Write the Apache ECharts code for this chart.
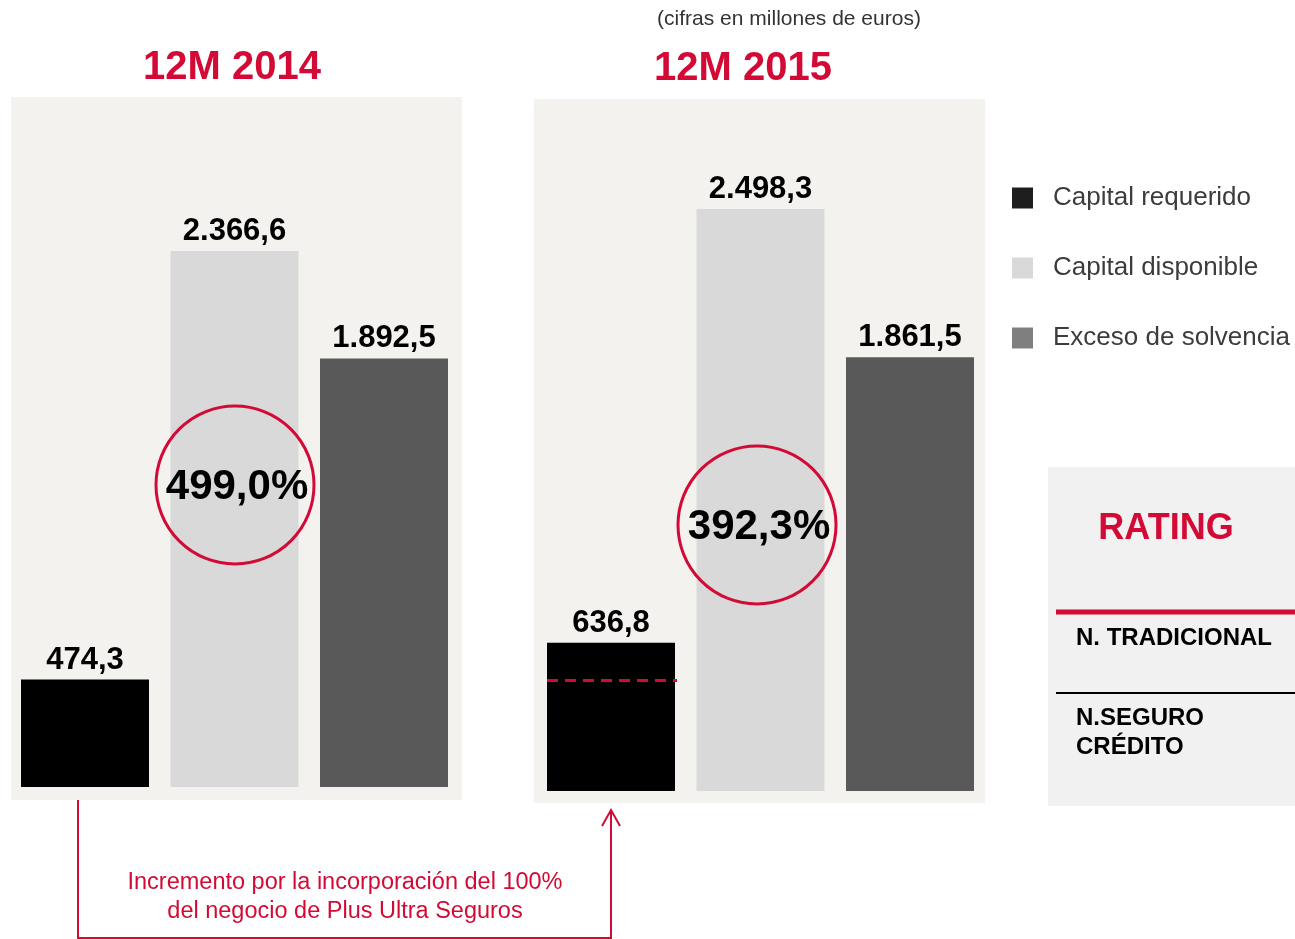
<!DOCTYPE html>
<html>
<head>
<meta charset="utf-8">
<script src="https://cdn.jsdelivr.net/npm/echarts@6/dist/echarts.min.js"></script>
<style>
html,body{margin:0;padding:0;background:#ffffff;}
#chart{width:1295px;height:939px;}
</style>
</head>
<body>
<div id="chart"></div>
<script>
// ---- data ----
var periods = ['12M 2014', '12M 2015'];
var seriesNames = ['Capital requerido', 'Capital disponible', 'Exceso de solvencia'];
var capitalRequerido = [474.3, 636.8];
var capitalDisponible = [2366.6, 2498.3];
var excesoSolvencia = [1892.5, 1861.5];
var ratios = ['499,0%', '392,3%'];
var unitNote = '(cifras en millones de euros)';
var ratingTitle = 'RATING';
var ratingRows = ['N. TRADICIONAL', 'N.SEGURO\nCRÉDITO'];
var footNote = 'Incremento por la incorporación del 100%\ndel negocio de Plus Ultra Seguros';

// ---- styles ----
var RED = '#d20a35';
var FONT = '"Liberation Sans", Arial, sans-serif';
var barColors = ['#000000', '#d9d9d9', '#595959'];
var legendColors = ['#1e1e1e', '#d9d9d9', '#7f7f7f'];

function fmt(v) {
  var s = v.toFixed(1).split('.');
  var i = s[0].replace(/\B(?=(\d{3})+(?!\d))/g, '.');
  return i + ',' + s[1];
}

var grids = [
  {left: 21, width: 427, top: 251, height: 536},
  {left: 547, width: 427, top: 209, height: 582}
];

var valueSets = [capitalRequerido, capitalDisponible, excesoSolvencia];
var series = [];
for (var g = 0; g < 2; g++) {
  for (var s = 0; s < 3; s++) {
    series.push({
      type: 'bar',
      name: seriesNames[s],
      xAxisIndex: g,
      yAxisIndex: g,
      data: [valueSets[s][g]],
      barWidth: 128,
      barGap: '16.8%',
      itemStyle: {color: barColors[s]},
      label: {
        show: true, position: 'top', distance: 4,
        fontFamily: FONT, fontWeight: 'bold', fontSize: 31, color: '#000',
        formatter: function (p) { return fmt(p.value); }
      },
      animation: false
    });
  }
}

var chart = echarts.init(document.getElementById('chart'), null, {renderer: 'canvas'});

var option = {
  animation: false,
  backgroundColor: '#ffffff',
  grid: grids.map(function (gr) { return Object.assign({containLabel: false}, gr); }),
  xAxis: [0, 1].map(function (g) {
    return {type: 'category', gridIndex: g, data: [periods[g]], show: false};
  }),
  yAxis: [0, 1].map(function (g) {
    return {type: 'value', gridIndex: g, min: 0, max: 'dataMax', show: false, splitLine: {show: false}};
  }),
  legend: {
    orient: 'vertical', left: 1012, top: 185, padding: 0,
    itemWidth: 21, itemHeight: 21, itemGap: 44,
    icon: 'rect',
    selectedMode: false,
    textStyle: {fontFamily: FONT, fontSize: 26, color: '#3c3c3c', padding: [0, 0, 0, 15]},
    data: seriesNames.map(function (n, i) {
      return {name: n, itemStyle: {color: legendColors[i]}};
    })
  },
  series: series,
  graphic: []
};
chart.setOption(option);

// annotations
var gfx = [];
// panel backgrounds
gfx.push({type: 'rect', z: -10, shape: {x: 11, y: 97, width: 451, height: 703}, style: {fill: '#f3f2ee'}});
gfx.push({type: 'rect', z: -10, shape: {x: 534, y: 99, width: 451, height: 704}, style: {fill: '#f3f2ee'}});
// titles
gfx.push({type: 'text', x: 232, y: 68, style: {text: periods[0], fill: RED, font: 'bold 40px ' + FONT, align: 'center', verticalAlign: 'middle'}});
gfx.push({type: 'text', x: 743, y: 69, style: {text: periods[1], fill: RED, font: 'bold 40px ' + FONT, align: 'center', verticalAlign: 'middle'}});
gfx.push({type: 'text', x: 789, y: 19, style: {text: unitNote, fill: '#333333', font: '21px ' + FONT, align: 'center', verticalAlign: 'middle'}});
// ratio circles
var circleCenters = [[235, 485], [757, 525]];
for (var c = 0; c < 2; c++) {
  gfx.push({type: 'circle', z: 100, shape: {cx: circleCenters[c][0], cy: circleCenters[c][1], r: 79}, style: {fill: null, stroke: RED, lineWidth: 3}});
  gfx.push({type: 'text', z: 101, x: circleCenters[c][0] + 2, y: circleCenters[c][1] + 2, style: {text: ratios[c], fill: '#000', font: 'bold 42px ' + FONT, align: 'center', verticalAlign: 'middle'}});
}
// dashed line: previous-year requirement level inside 2015 bar
var pA = chart.convertToPixel({xAxisIndex: 1, yAxisIndex: 1}, [periods[1], capitalRequerido[0]]);
gfx.push({type: 'line', z: 100, shape: {x1: 547, y1: pA[1], x2: 677, y2: pA[1]}, style: {stroke: RED, lineWidth: 3, lineDash: [11, 7]}});
// rating box
gfx.push({type: 'rect', z: -10, shape: {x: 1048, y: 467, width: 247, height: 339}, style: {fill: '#f1f1f1'}});
gfx.push({type: 'text', x: 1166, y: 529, style: {text: ratingTitle, fill: RED, font: 'bold 36px ' + FONT, align: 'center', verticalAlign: 'middle'}});
gfx.push({type: 'line', shape: {x1: 1056, y1: 612, x2: 1295, y2: 612}, style: {stroke: RED, lineWidth: 5}});
gfx.push({type: 'text', x: 1076, y: 638, style: {text: ratingRows[0], fill: '#000', font: 'bold 24px ' + FONT, align: 'left', verticalAlign: 'middle'}});
gfx.push({type: 'line', shape: {x1: 1056, y1: 693, x2: 1295, y2: 693}, style: {stroke: '#000', lineWidth: 2}});
gfx.push({type: 'text', x: 1076, y: 704, style: {text: ratingRows[1], fill: '#000', font: 'bold 24px ' + FONT, align: 'left', verticalAlign: 'top', lineHeight: 29}});
// bottom arrow annotation
gfx.push({type: 'polyline', shape: {points: [[78, 800], [78, 938], [611, 938], [611, 810]]}, style: {stroke: RED, lineWidth: 2, fill: null}});
gfx.push({type: 'polyline', shape: {points: [[602, 826], [611, 810], [620, 826]]}, style: {stroke: RED, lineWidth: 2, fill: null}});
gfx.push({type: 'text', x: 345, y: 897, style: {text: footNote, fill: RED, font: '23.5px ' + FONT, align: 'center', verticalAlign: 'middle', lineHeight: 29}});

chart.setOption({graphic: gfx});
</script>
</body>
</html>
